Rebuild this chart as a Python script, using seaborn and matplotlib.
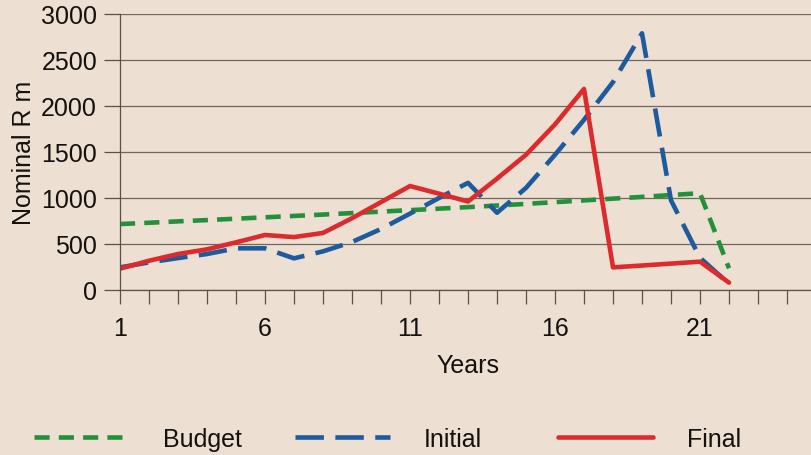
import matplotlib
matplotlib.use("Agg")
import matplotlib.pyplot as plt
import pandas as pd
import seaborn as sns

# ---- data ----
years = list(range(1, 23))
budget = [717, 731, 746, 760, 775, 790, 805, 820, 836, 852, 868,
          884, 901, 918, 936, 955, 974, 993, 1012, 1032, 1052, 236]
initial = [246, 300, 347, 391, 453, 453, 344, 420, 522, 663, 830,
           1000, 1165, 840, 1110, 1470, 1850, 2260, 2790, 975, 350, 68]
final = [232, 318, 391, 442, 518, 598, 575, 620, 780, 955, 1130,
         1047, 962, 1210, 1470, 1800, 2185, 246, 266, 287, 308, 80]
series_names = ["Budget", "Initial", "Final"]
x_ticks_all = list(range(1, 26))
x_label_years = [1, 6, 11, 16, 21]
y_ticks = [0, 500, 1000, 1500, 2000, 2500, 3000]
y_tick_labels = ["0", "500", "1000", "1500", "2000", "2500", "3000"]

# ---- styling ----
sns.set_theme(style="white")
plt.rcParams["font.family"] = ["Liberation Sans", "DejaVu Sans"]

bg = "#EDDFD1"
text_col = "#14110e"
axis_col = "#5a524a"
grid_col = "#6f675f"
palette = {"Budget": "#23903A", "Initial": "#1E5A9E", "Final": "#DD2B2D"}
dashes = {"Budget": (3.3, 2.0), "Initial": (6.2, 2.5), "Final": ""}

fig = plt.figure(figsize=(8.11, 4.56), dpi=100, facecolor=bg)
ax = fig.add_axes([120 / 811, 165 / 456, 696 / 811, 276 / 456])
ax.set_facecolor(bg)

df = pd.DataFrame({
    "Year": years * 3,
    "Value": budget + initial + final,
    "Series": ["Budget"] * len(years) + ["Initial"] * len(years) + ["Final"] * len(years),
})

sns.lineplot(data=df, x="Year", y="Value", hue="Series", style="Series",
             hue_order=series_names, style_order=series_names,
             palette=palette, dashes=dashes, linewidth=3.3,
             legend=False, ax=ax)

ax.set_xlim(1, 25)
ax.set_ylim(0, 3000)
ax.set_xticks(x_ticks_all)
ax.set_xticklabels([str(t) if t in x_label_years else "" for t in x_ticks_all])
ax.set_yticks(y_ticks)
ax.set_yticklabels(y_tick_labels)

ax.yaxis.grid(True, color=grid_col, linewidth=0.9)
ax.xaxis.grid(False)
ax.set_axisbelow(True)

for s in ["top", "right"]:
    ax.spines[s].set_visible(False)
for s in ["left", "bottom"]:
    ax.spines[s].set_color(axis_col)
    ax.spines[s].set_linewidth(0.9)

ax.tick_params(axis="y", direction="out", length=11.5, width=0.9, color=axis_col,
               labelsize=18, labelcolor=text_col, pad=5, left=True)
ax.tick_params(axis="x", direction="out", length=10, width=0.9, color=axis_col,
               labelsize=18, labelcolor=text_col, pad=9, bottom=True)

ax.set_xlabel("Years", fontsize=18, color=text_col, labelpad=9)
ax.set_ylabel("Nominal R m", fontsize=18, color=text_col, labelpad=4)

# ---- legend: three evenly spaced entries below the plot ----
lines = ax.get_lines()[:3]
legend_x = [34 / 811, 295 / 811, 558 / 811]
for line, name, lx in zip(lines, series_names, legend_x):
    leg = fig.legend(handles=[line], labels=[name], loc="center left",
                     bbox_to_anchor=(lx, 16 / 456), frameon=False,
                     handlelength=3.8, handletextpad=1.35, borderpad=0,
                     borderaxespad=0, fontsize=18)
    for t in leg.get_texts():
        t.set_color(text_col)

fig.savefig("out.png", dpi=100, facecolor=bg)
